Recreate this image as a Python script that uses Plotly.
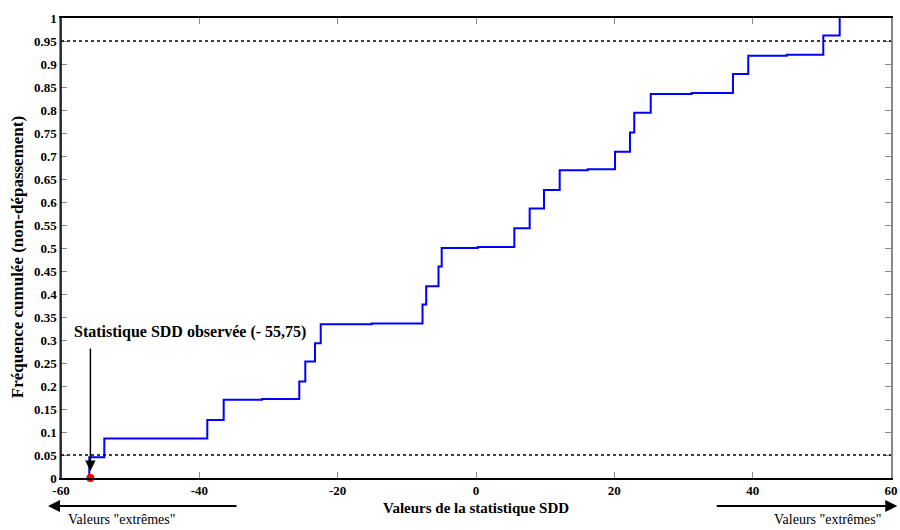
import plotly.graph_objects as go

# Step positions (SDD statistic values) and cumulative frequency after each step
sdd_steps = [-55.91, -53.74, -38.85, -36.48, -30.94, -25.55, -24.68, -23.28, -22.45, -15.08,
             -7.73, -7.20, -5.42, -4.96, 0.25, 5.54, 7.76, 9.83, 12.10, 16.15,
             20.10, 22.26, 22.88, 25.26, 31.18, 37.15, 39.36, 44.92, 50.21, 52.58]
cum_freq = [0.045, 0.086, 0.126, 0.170, 0.172, 0.210, 0.253, 0.293, 0.334, 0.336,
            0.377, 0.417, 0.460, 0.500, 0.502, 0.543, 0.586, 0.626, 0.669, 0.671,
            0.709, 0.751, 0.794, 0.835, 0.837, 0.878, 0.918, 0.920, 0.962, 1.000]

observed_sdd = -55.75
observed_label = "Statistique SDD observée (- 55,75)"
thresholds = [0.05, 0.95]
x_ticks = [-60, -40, -20, 0, 20, 40, 60]
y_ticks = [round(i * 0.05, 2) for i in range(21)]
y_tick_text = ["0" if v == 0 else ("1" if v == 1 else f"{v:g}") for v in y_ticks]

FONT = "Liberation Serif"

fig = go.Figure()

xs = [sdd_steps[0]] + sdd_steps
ys = [0.0] + cum_freq
fig.add_trace(go.Scatter(x=xs, y=ys, mode="lines", line=dict(color="#0000FF", width=2, shape="hv"),
                         hoverinfo="skip", showlegend=False))

fig.add_trace(go.Scatter(x=[observed_sdd], y=[0.0], mode="markers",
                         marker=dict(color="#FF0000", size=8, symbol="circle"),
                         cliponaxis=False, showlegend=False))

for t in thresholds:
    fig.add_shape(type="line", xref="paper", x0=0, x1=1, yref="y", y0=t, y1=t,
                  line=dict(color="black", width=1.5, dash="dot"))

# left black axis line
fig.add_shape(type="line", xref="paper", x0=0, x1=0, yref="paper", y0=0, y1=1,
              line=dict(color="black", width=1.5))

# annotation arrow to observed value
fig.add_annotation(x=observed_sdd, y=0.015, xref="x", yref="y",
                   ax=observed_sdd, ay=0.285, axref="x", ayref="y",
                   showarrow=True, arrowhead=2, arrowsize=1.4, arrowwidth=1.5,
                   arrowcolor="black", text="")
fig.add_annotation(x=-58.4, y=0.317, xref="x", yref="y", xanchor="left", yanchor="middle",
                   text="<b>" + observed_label + "</b>", showarrow=False,
                   font=dict(family=FONT, size=16, color="black"))

# extreme values arrows
fig.add_annotation(x=-0.0157, y=-0.061, xref="paper", yref="paper", ax=190, ay=0,
                   showarrow=True, arrowhead=2, arrowsize=1.2, arrowwidth=2, arrowcolor="black", text="")
fig.add_annotation(x=1.0075, y=-0.061, xref="paper", yref="paper", ax=-182, ay=0,
                   showarrow=True, arrowhead=2, arrowsize=1.2, arrowwidth=2, arrowcolor="black", text="")
fig.add_annotation(x=0.0723, y=-0.0913, xref="paper", yref="paper", text='Valeurs "extrêmes"',
                   showarrow=False, xanchor="center", yanchor="middle",
                   font=dict(family=FONT, size=14, color="black"))
fig.add_annotation(x=0.924, y=-0.0913, xref="paper", yref="paper", text='Valeurs "extrêmes"',
                   showarrow=False, xanchor="center", yanchor="middle",
                   font=dict(family=FONT, size=14, color="black"))

# axis titles
fig.add_annotation(x=0.5, y=-0.065, xref="paper", yref="paper", text="<b>Valeurs de la statistique SDD</b>",
                   showarrow=False, xanchor="center", yanchor="middle",
                   font=dict(family=FONT, size=15, color="black"))
fig.add_annotation(x=-0.053, y=0.48, xref="paper", yref="paper",
                   text="<b>Fréquence cumulée (non-dépassement)</b>", textangle=-90,
                   showarrow=False, xanchor="center", yanchor="middle",
                   font=dict(family=FONT, size=17, color="black"))

fig.update_layout(
    width=900, height=530,
    margin=dict(l=61, r=9, t=18, b=52),
    plot_bgcolor="white", paper_bgcolor="white",
    font=dict(family=FONT, color="black"),
    xaxis=dict(range=[-60, 60], tickvals=x_ticks, ticktext=[str(v) for v in x_ticks],
               showgrid=False, zeroline=False, showline=True, linecolor="black", linewidth=1.5,
               mirror="ticks", ticks="inside", ticklen=6, tickcolor="#888", tickwidth=1,
               ticklabeloverflow="allow", automargin=False,
               tickfont=dict(family=FONT, size=13, color="black", weight="bold")),
    yaxis=dict(range=[0, 1], tickvals=y_ticks, ticktext=y_tick_text,
               showgrid=False, zeroline=False, showline=True, linecolor="#888", linewidth=1.5,
               mirror="ticks", ticks="inside", ticklen=6, tickcolor="#888", tickwidth=1,
               automargin=False,
               tickfont=dict(family=FONT, size=13, color="black", weight="bold")),
)

# remove the default 8px page margin so the 900x530 figure fills the window exactly
fig.write_html("out.html", config={"displayModeBar": False},
               post_script="document.body.style.margin='0';document.body.style.overflow='hidden';")
